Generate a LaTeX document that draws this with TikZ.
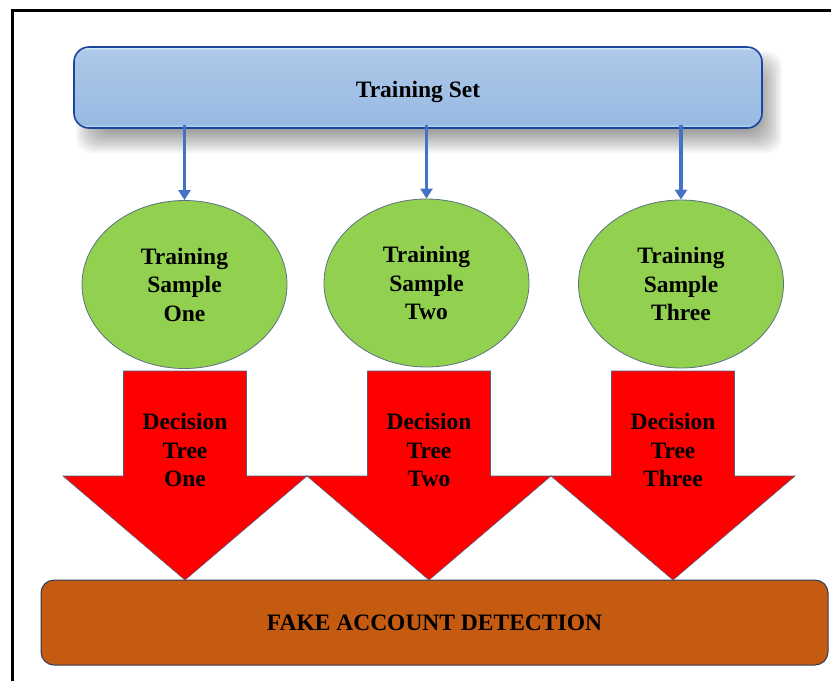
\documentclass[tikz,border=0pt]{standalone}
\usepackage{fontspec}
\setmainfont{Liberation Serif}
\usetikzlibrary{shapes.geometric,arrows.meta}
\definecolor{tsborder}{HTML}{1C45A0}
\definecolor{tsEdgeT}{HTML}{DDF6FF}
\definecolor{tsHigh}{HTML}{ADC8E8}
\definecolor{tsLow}{HTML}{98BAE2}
\definecolor{tsEdgeB}{HTML}{C4EAFC}
\definecolor{connblue}{HTML}{4472C4}
\definecolor{samplegreen}{HTML}{92D050}
\definecolor{sampleborder}{HTML}{5A7282}
\definecolor{arrowred}{HTML}{FF0000}
\definecolor{arrowborder}{HTML}{55607A}
\definecolor{fakebrown}{HTML}{C55A11}
\definecolor{fakeborder}{HTML}{2F3B5A}
\pgfdeclareverticalshading{tsshade}{100bp}{color(0bp)=(tsEdgeB); color(25bp)=(tsEdgeB); color(27.5bp)=(tsLow); color(71.5bp)=(tsHigh); color(73bp)=(tsHigh); color(75bp)=(tsEdgeT); color(100bp)=(tsEdgeT)}
\tikzset{
  lbl/.style={font=\bfseries\fontsize{23.5}{28.5}\selectfont, align=center, inner sep=0pt, text=black},
  tsbox/.style={draw=tsborder, line width=1.6pt, rounded corners=15pt, shading=tsshade,
    minimum width=688pt, minimum height=81pt, inner sep=0pt},
  shadowlayer/.style={fill=black, fill opacity=0.036, rounded corners=16pt},
  sample/.style={ellipse, draw=sampleborder, line width=0.8pt, fill=samplegreen,
    minimum width=205pt, minimum height=168pt, inner sep=0pt},
  conn/.style={draw=connblue, line width=3.3pt, -{Triangle[width=12pt,length=10pt]}},
  redarrow/.style={fill=arrowred, draw=arrowborder, line width=0.6pt, line join=miter},
  fakebox/.style={draw=fakeborder, line width=1pt, fill=fakebrown, rounded corners=13pt,
    minimum width=787pt, minimum height=85pt, inner sep=0pt},
  frameline/.style={draw=black, line width=3pt}
}
\begin{document}
\begin{tikzpicture}[x=1pt, y=-1pt]
\useasboundingbox (0,0) rectangle (831,681);
\fill[white] (0,0) rectangle (831,681);
% frame
\draw[frameline] (12.5,681) -- (12.5,10.5) -- (831,10.5);
% soft shadow of the top box
\foreach \k in {0,...,11} {
  \fill[shadowlayer] (86-10+2*\k, 61-10+2*\k) rectangle (772+10-2*\k, 143+10-2*\k);
}
% top box
\node[tsbox] (ts) at (418,87.5) {};
\node[lbl] (tstext) at (418,92) {Training Set};
% samples
\node[sample] (s1) at (184.5,284.5) {};
\node[sample] (s2) at (426.5,283) {};
\node[sample] (s3) at (681,284) {};
\node[lbl] (s1t) at (184.5,284.5) {Training\\Sample\\One};
\node[lbl] (s2t) at (426.5,283) {Training\\Sample\\Two};
\node[lbl] (s3t) at (681,284) {Training\\Sample\\Three};
% connectors
\draw[conn] (ts.south -| s1.north) ++(0,-4) -- (s1.north);
\draw[conn] (ts.south -| s2.north) ++(0,-4) -- (s2.north);
\draw[conn] (ts.south -| s3.north) ++(0,-4) -- (s3.north);
% bottom box
\node[fakebox] (fake) at (434.5,622.5) {};
\node[lbl] (faketext) at (434.5,622.5) {FAKE ACCOUNT DETECTION};
% red arrows
\foreach \c in {185,429,673} {
  \draw[redarrow] (\c-61.5,371) -- (\c+61.5,371) -- (\c+61.5,476) -- (\c+122,476)
    -- (\c,580) -- (\c-122,476) -- (\c-61.5,476) -- cycle;
}
\node[lbl] (d1) at (185,450) {Decision\\Tree\\One};
\node[lbl] (d2) at (429,450) {Decision\\Tree\\Two};
\node[lbl] (d3) at (673,450) {Decision\\Tree\\Three};
\end{tikzpicture}
\end{document}
